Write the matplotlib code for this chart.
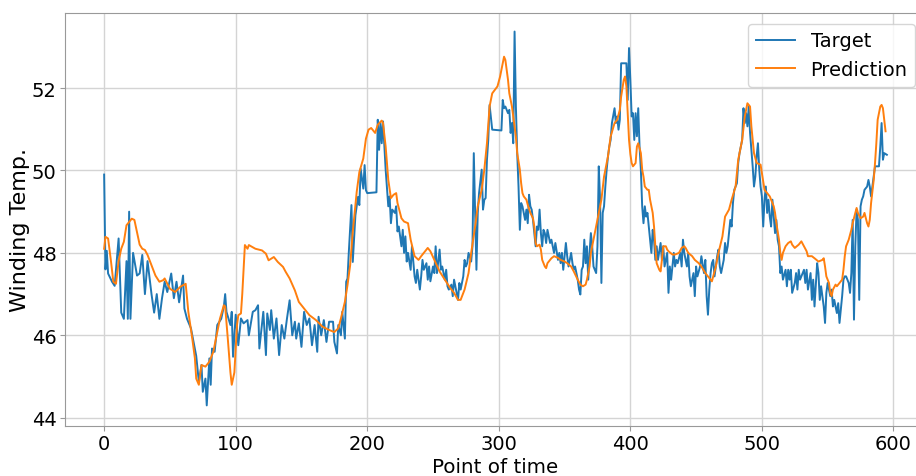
import matplotlib
matplotlib.use("Agg")
import matplotlib.pyplot as plt

# measured winding temperature (sample index, value)
target_t = [0, 1, 2, 3, 6, 8, 11, 13, 15, 17, 18, 19, 20, 22, 25, 27, 29, 31, 33, 36,
            38, 40, 42, 44, 46, 48, 51, 53, 55, 57, 60, 61, 63, 66, 68, 70, 72, 74, 75, 77,
            78, 80, 81, 82, 84, 86, 89, 91, 92, 93, 96, 97, 98, 100,
            102, 104, 106, 109, 110, 113, 115, 117, 118, 121, 123, 124, 126, 127, 129, 131,
            133, 135, 137, 139, 141, 143, 145, 146, 148, 150, 152, 154, 156, 158, 160, 162,
            163, 165, 167, 169, 171, 174, 175, 177, 178, 180, 181, 183, 184, 185, 186, 188,
            189, 191, 193, 194, 195, 197, 198, 199,
            200, 207, 208, 209, 210, 211, 212, 213, 214, 216, 217, 218, 219, 221, 222, 223,
            224, 226, 227, 228, 229, 230, 231, 233, 234, 236, 237, 238, 240, 241, 242, 243,
            245, 246, 247, 248, 250, 251, 252, 253, 255, 256, 257, 259, 260, 261, 262, 264,
            265, 266, 268, 269, 270, 271, 273, 274, 275, 276, 277, 279, 280, 281, 282, 283,
            284, 285, 287, 288, 289, 290, 291, 292, 293, 295, 302,
            303, 304, 305, 307, 308, 309, 310, 311, 312, 313, 314, 315, 316, 317, 318, 319,
            320, 321, 322, 323, 324, 325, 326, 327, 328, 329, 330, 331, 332, 333, 334, 335,
            336, 337, 339, 340, 341, 342, 343, 345, 346, 347, 348, 349, 351, 352, 353, 355,
            356, 357, 358, 360, 361, 362, 363, 364, 365, 366, 367, 368, 369, 370, 371, 372,
            374, 375, 376, 377, 378, 379, 380, 381, 382, 383, 384, 385, 386, 388, 389, 390,
            391, 392, 393, 397, 398, 399, 400, 401, 402, 403, 404, 405, 406, 407, 408, 409,
            410, 411, 412, 413, 414, 415, 416, 417, 418, 419, 420, 421, 423, 424, 425, 426,
            428, 429, 430, 431, 433, 434, 435, 436, 438, 439, 440, 441, 443, 444, 445, 446,
            448, 449, 450, 451, 453, 454, 456, 457, 458, 459, 460, 461, 462, 463, 464, 466,
            467, 468, 469, 471, 472, 473, 474, 476, 477, 478, 479, 481, 482, 483, 485, 486,
            487, 488, 489, 490, 491, 492, 493, 494, 495, 496, 497, 498, 499, 500, 501, 502,
            503, 504, 505,
            506, 507, 508, 509, 510, 511, 512, 513, 514, 515, 516, 518, 519, 520, 521, 522,
            523, 525, 526, 527, 528, 529, 530, 532, 533, 534, 535, 537, 538, 539, 540, 542,
            543, 544, 545, 547, 548, 549, 550, 552, 553, 554, 555, 557, 558, 559, 561, 562,
            563, 564, 566, 567, 568, 569, 570, 571, 572, 573, 574, 575, 576, 577, 578, 580,
            581, 582, 583, 585, 586, 589, 590, 591, 592, 593, 595]
target_v = [49.9, 47.6, 48.05, 47.5, 47.3, 47.2, 48.35, 46.55, 46.4, 47.8, 46.4, 49.0, 46.4,
            48.0, 47.45, 47.5, 47.95, 47.0, 47.8, 47.0, 46.55, 47.0, 46.4, 46.9, 47.3, 47.05,
            47.5, 46.9, 47.3, 46.8, 47.45, 46.65, 46.4, 46.17, 45.84, 45.5, 44.87, 45.28,
            44.63, 44.95, 44.3, 45.44, 44.8, 45.68, 45.6, 46.25, 46.4, 46.7, 47.0, 46.57,
            46.25, 46.57, 45.48, 46.5,
            45.76, 46.41, 46.29, 46.37, 46.0, 46.57, 46.61, 46.73, 45.68, 46.57, 45.52, 46.53,
            46.13, 46.61, 45.92, 46.41, 45.52, 46.25, 45.92, 46.41, 46.85, 46.0, 46.33, 45.92,
            46.29, 45.72, 46.57, 46.25, 46.41, 45.76, 46.25, 45.6, 46.45, 46.0, 46.37, 45.84,
            46.33, 46.33, 45.84, 45.56, 46.25, 46.0, 46.57, 45.92, 47.3, 47.38, 48.02, 49.16,
            47.78, 48.91, 49.36, 49.16, 50.04, 49.56, 50.13, 49.52,
            49.45, 49.47, 51.23, 50.5, 51.15, 50.66, 51.19, 50.58, 50.02, 49.13, 49.37, 48.72,
            49.05, 48.97, 49.13, 48.52, 48.64, 48.16, 48.56, 48.0, 48.4, 47.79, 48.0, 47.59,
            48.16, 47.43, 47.27, 47.59, 47.11, 47.43, 47.83, 47.59, 47.75, 47.35, 47.67, 47.31,
            47.67, 47.51, 48.16, 47.51, 48.08, 47.59, 47.67, 47.35, 47.59, 47.19, 47.11, 47.23,
            46.95, 47.35, 47.03, 46.86, 47.27, 47.11, 47.43, 47.83, 47.67, 47.75, 48.0, 47.79,
            48.16, 50.42, 48.97, 47.59, 48.97, 49.45, 50.02, 49.05, 49.29, 49.33, 50.26, 50.74,
            51.59, 50.99, 50.97,
            51.71, 51.51, 51.55, 51.39, 51.47, 50.91, 51.15, 50.66, 53.37, 51.55, 50.42, 49.61,
            48.56, 49.21, 49.13, 48.97, 48.8, 49.05, 48.72, 49.41, 49.13, 49.05, 48.8, 48.48,
            48.16, 48.64, 48.56, 49.05, 48.48, 48.16, 48.56, 48.48, 48.24, 48.56, 48.24, 48.32,
            48.16, 48.0, 48.24, 47.83, 48.0, 47.75, 48.0, 47.59, 48.24, 47.92, 47.67, 48.0,
            47.75, 47.59, 47.67, 47.35, 47.11, 46.99, 47.59, 47.67, 48.32, 47.75, 48.16, 47.35,
            48.0, 48.48, 48.16, 47.67, 47.51, 48.16, 50.1, 49.29, 47.27, 48.97, 49.13, 49.61,
            50.02, 50.34, 50.58, 50.74, 51.15, 51.51, 51.15, 51.31, 50.99, 51.23, 52.6, 52.6,
            51.71, 52.97, 52.2, 51.31, 51.39, 50.74, 51.39, 50.83, 51.51, 50.58, 50.02, 49.13,
            48.72, 49.13, 48.88, 48.97, 48.64, 48.32, 48.0, 48.56, 48.32, 47.83, 48.16, 47.83,
            48.24, 47.83, 48.16, 47.67, 48.0, 47.03, 47.67, 47.35, 48.0, 47.67, 47.83, 47.75,
            48.0, 47.67, 48.32, 48.0, 47.67, 48.0, 47.43, 47.19, 47.51, 46.95, 47.67, 47.43,
            47.67, 47.92, 47.51, 47.83, 46.95, 46.5, 47.11, 47.51, 47.75, 47.83, 47.43, 47.92,
            48.08, 47.67, 47.51, 47.83, 48.24, 48.0, 48.16, 48.8, 48.64, 49.21, 49.53, 49.69,
            50.18, 50.42, 50.74, 51.51, 51.15, 51.39, 51.07, 51.55, 50.91, 50.5, 50.1, 49.61,
            49.85, 50.34, 50.66, 50.02, 49.61, 49.37, 48.64, 49.29, 49.61, 48.97, 49.29,
            48.88, 48.64, 49.29, 48.88, 48.48, 48.8, 48.32, 48.16, 47.51, 47.67, 47.35, 47.59,
            47.19, 47.59, 47.35, 47.59, 47.03, 47.27, 47.51, 47.11, 47.59, 47.35, 47.43, 47.59,
            47.27, 47.59, 47.11, 47.51, 46.86, 47.35, 46.7, 47.75, 47.51, 46.86, 47.19, 46.7,
            46.3, 47.03, 47.27, 46.95, 47.11, 46.7, 46.86, 46.54, 46.78, 46.3, 46.95, 47.35,
            47.43, 47.43, 47.27, 47.03, 47.51, 48.8, 46.38, 48.16, 49.05, 48.8, 46.86, 49.13,
            49.29, 49.37, 49.53, 49.61, 49.77, 49.61, 49.37, 49.85, 50.1, 50.1, 50.58, 51.15,
            50.26, 50.42, 50.38]

# model output (sample index, value)
pred_t = [0, 1, 3, 5, 7, 9, 11, 13, 15, 17, 19, 21, 23, 25, 27, 29, 31, 33, 36, 39,
          42, 45, 46, 50, 54, 58, 62, 64, 67, 69, 70, 72, 74, 77, 80, 83, 86, 88, 91, 92,
          94, 96, 97, 99, 101, 102, 104, 105, 107, 109, 110, 115, 120, 123, 125, 129, 132, 136,
          138, 141, 145, 148, 152, 156, 161, 166, 171, 175, 178, 180, 183, 185, 187, 189,
          192, 194, 197, 199, 201, 203, 206, 208, 211, 212, 214, 216, 218, 220, 222, 223,
          226, 228, 231, 233, 236, 239, 241, 244, 246, 248, 251, 255, 259, 263, 266, 269,
          271, 274, 277, 279, 282, 284, 287, 289, 291, 293, 295, 299, 301, 303, 304, 305,
          307, 308, 310, 312, 313, 314, 316, 317, 318, 319, 321, 322, 324, 326, 327, 328,
          329, 331, 332, 333, 335, 336, 337, 340, 342, 345, 347, 350, 352, 355, 357, 360,
          362, 364, 366, 367, 369, 370, 373, 375, 378, 380, 383, 385, 388, 390, 392, 393,
          395, 396, 397, 398, 399, 400, 401, 402, 404, 405, 406, 408, 409, 410, 411, 413,
          414, 415, 417, 418, 419, 420, 422, 423, 424, 425, 427, 428, 429, 432, 434, 437,
          439, 441, 442, 444, 447, 449, 452, 454, 457, 460, 462, 463, 465, 467, 470, 472,
          475, 477, 480, 482, 485, 487, 489, 491, 492, 494, 496, 499, 500, 502, 505, 506,
          509, 510, 511, 513, 514, 515, 516, 518, 519, 520, 522, 523, 525, 528, 530, 532,
          534, 535, 538, 540, 543, 546, 547, 548, 549, 551, 552, 553, 554, 556, 557, 559,
          561, 562, 563, 564, 566, 568, 569, 571, 572, 573, 575, 577, 578, 580, 581, 582,
          583, 585, 586, 587, 588, 590, 591, 592, 593, 594]
pred_v = [48.1, 48.39, 48.35, 47.85, 47.3, 47.25, 47.8, 48.1, 48.27, 48.67, 48.75, 48.83,
          48.8, 48.5, 48.2, 48.1, 48.07, 47.95, 47.7, 47.45, 47.3, 47.34, 47.38, 47.13, 47.05,
          47.18, 47.25, 46.57, 45.92, 45.44, 44.95, 44.8, 45.28, 45.24, 45.36, 45.6, 46.08,
          46.4, 46.73, 46.7, 45.92, 45.1, 44.8, 45.1, 46.25, 46.49, 46.53, 47.0, 48.19, 48.1,
          48.19, 48.1, 48.06, 47.98, 47.82, 47.9, 47.78, 47.66, 47.54, 47.38, 47.09, 46.81,
          46.65, 46.49, 46.37, 46.21, 46.13, 46.08, 46.17, 46.41, 46.81, 47.22, 47.7, 48.51,
          49.48, 49.96, 50.29, 50.77, 50.99, 51.03, 50.91, 51.11, 51.21, 51.15, 50.58, 49.77,
          49.33, 49.41, 49.45, 49.21, 48.84, 48.76, 48.72, 48.32, 47.92, 47.83, 47.92, 48.04,
          48.12, 48.04, 47.83, 47.55, 47.35, 47.15, 47.03, 46.86, 46.86, 47.11, 47.51, 48.0,
          48.64, 49.13, 49.53, 50.02, 50.66, 51.55, 51.87, 52.04, 52.28, 52.6, 52.76, 52.68,
          52.2, 51.87, 51.55, 51.07, 50.82, 50.42, 50.02, 49.69, 49.45, 49.37, 49.29, 49.17,
          48.97, 48.84, 48.64, 48.24, 48.16, 48.2, 48.08, 47.83, 47.67, 47.63, 47.75, 47.87,
          47.92, 47.88, 47.83, 47.79, 47.75, 47.67, 47.55, 47.35, 47.23, 47.19, 47.23, 47.35,
          47.67, 48.0, 48.48, 48.8, 49.29, 49.85, 50.34, 50.82, 51.15, 51.23, 51.47, 51.79,
          52.2, 52.28, 52.04, 51.39, 50.74, 50.4, 50.18, 50.1, 50.18, 50.58, 50.66, 50.42,
          50.02, 49.85, 49.61, 49.53, 49.53, 49.29, 48.97, 48.64, 48.16, 47.75, 47.59, 47.55,
          47.83, 48.16, 48.16, 48.08, 48.04, 47.96, 47.96, 48.0, 48.12, 48.16, 48.12, 48.0,
          47.92, 47.83, 47.75, 47.67, 47.51, 47.39, 47.31, 47.43, 47.67, 48.0, 48.4, 48.88,
          49.05, 49.29, 49.61, 50.26, 50.74, 51.31, 51.63, 51.55, 51.07, 50.42, 50.18, 50.14,
          49.94, 49.53, 49.41, 49.37, 49.13, 48.97, 48.72, 48.32, 48.0, 47.83, 48.0, 48.16,
          48.2, 48.24, 48.28, 48.2, 48.12, 48.2, 48.28, 48.16, 48.04, 47.92, 47.92, 47.87,
          47.79, 47.83, 47.87, 47.67, 47.43, 47.27, 47.03, 46.95, 47.11, 47.23, 47.19, 47.27,
          47.35, 47.59, 47.92, 48.16, 48.32, 48.56, 48.72, 48.97, 49.09, 48.97, 48.84, 48.88,
          48.97, 48.72, 48.64, 48.8, 49.21, 49.77, 50.18, 50.66, 51.23, 51.55, 51.59, 51.51,
          51.23, 50.95]

y_ticks = [44, 46, 48, 50, 52]
x_ticks = [0, 100, 200, 300, 400, 500, 600]

plt.rcParams["font.family"] = "DejaVu Sans"
plt.rcParams["font.size"] = 14

fig = plt.figure(figsize=(9.16, 4.77), dpi=100)
ax = fig.add_axes([65 / 916, 50 / 477, 861 / 916, 413 / 477])

ax.plot(target_t, target_v, color="#1f77b4", linewidth=1.4, label="Target")
ax.plot(pred_t, pred_v, color="#ff7f0e", linewidth=1.4, label="Prediction")

ax.set_xticks(x_ticks)
ax.set_yticks(y_ticks)
ax.set_xlim(-29.75, 624.75)
ax.set_ylim(43.8, 53.82)
ax.grid(True, color="0.83", linewidth=1.0)
ax.set_axisbelow(True)
for side in ax.spines.values():
    side.set_color("0.6")
ax.tick_params(colors="0.6", labelcolor="black", labelsize=14, length=3.5, pad=2.5)

ax.set_xlabel("Point of time", fontsize=14.3, labelpad=3)
ax.set_ylabel("Winding Temp.", fontsize=16)
ax.yaxis.set_label_coords(-0.041, 0.477)
ax.legend(loc="upper right", fontsize=14, handlelength=2.0, borderaxespad=0.55)

fig.savefig("out.png", dpi=100)
